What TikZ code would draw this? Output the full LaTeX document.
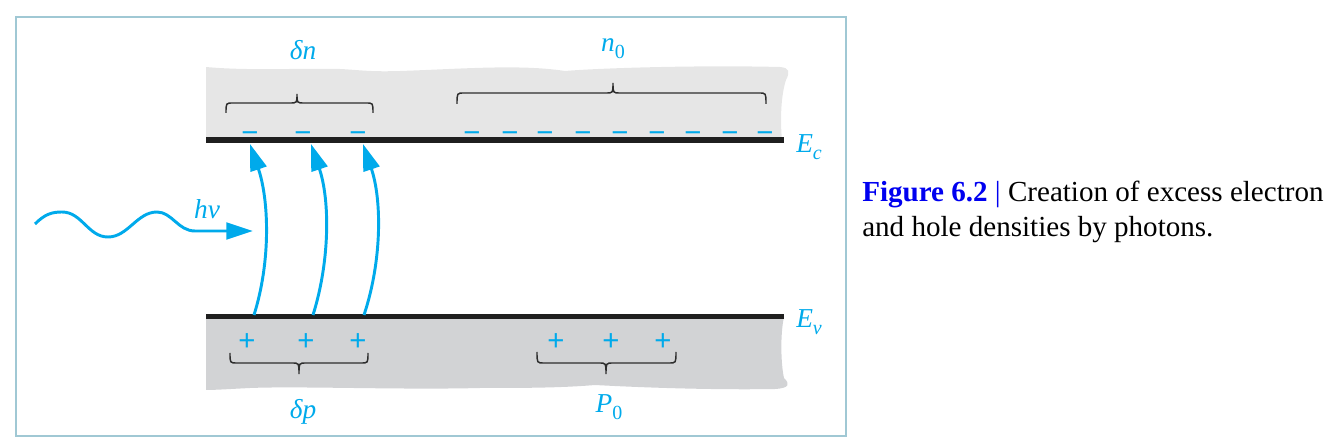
\documentclass[tikz,border=0pt]{standalone}
\usepackage{fontspec}
\setmainfont{Liberation Serif}
\newfontfamily\sansf{Liberation Sans}
\usetikzlibrary{arrows.meta}
\definecolor{cyanb}{RGB}{0,170,235}
\definecolor{figblue}{RGB}{0,0,240}
\definecolor{framec}{RGB}{160,200,212}
\definecolor{cbgray}{RGB}{230,230,230}
\definecolor{vbgray}{RGB}{210,211,213}
\definecolor{bracec}{RGB}{45,45,45}
\newcommand{\subsc}[1]{\raisebox{-0.22em}{\fontsize{15}{15}\selectfont #1}}
\begin{document}
\begin{tikzpicture}[x=0.75pt,y=-0.75pt,
 lbl/.style={text=cyanb, font=\fontsize{20.5}{24}\selectfont\itshape, inner sep=0, anchor=base},
 chg/.style={text=cyanb, font=\sansf\fontsize{22}{22}\selectfont, inner sep=0, anchor=base},
 band/.style={line width=4pt, draw=black!88},
 bracel/.style={draw=bracec, line width=1.1pt},
 excite/.style={draw=cyanb, line width=2.2pt, -{Triangle[length=20pt,width=12.5pt]}},
 captext/.style={font=\fontsize{21.8}{26}\selectfont, anchor=base west, inner sep=0}]
\useasboundingbox (0,0) rectangle (1340,438);
\draw[framec, line width=1.5pt] (16,17) rectangle (846,436);
% conduction band region
\fill[cbgray] (206,140) -- (206,67) .. controls (250,71) and (300,68) .. (340,69)
  .. controls (360,70) and (370,72) .. (400,71) .. controls (460,69) and (520,64) .. (565,71)
  .. controls (600,68) and (700,65) .. (780,67) .. controls (790,68) and (790,72) .. (786,80)
  .. controls (781,95) and (780,120) .. (782,140) -- cycle;
% valence band region
\fill[vbgray] (206,317) -- (784,317) .. controls (780,335) and (781,365) .. (784,378)
  .. controls (790,384) and (790,388) .. (775,389) .. controls (720,390) and (650,388) .. (595,385)
  .. controls (560,388) and (520,388) .. (480,388) .. controls (400,390) and (300,386) .. (250,388)
  .. controls (230,389) and (215,390) .. (206,390) -- cycle;
% band edges
\coordinate (ecl) at (206,140); \coordinate (ecr) at (784,140);
\coordinate (evl) at (206,316.7); \coordinate (evr) at (784,316.7);
\draw[band] (ecl) -- (ecr);
\draw[band] (evl) -- (evr);
% electrons
\foreach \x [count=\i] in {250,303,358,472,510,545,583,620,657,693,730,765}
  \node[chg] (m\i) at (\x,143) {−};
% holes
\foreach \x [count=\i] in {247,306,358,556,611,663}
  \node[chg] (p\i) at (\x,351) {+};
% braces
\draw[bracel] (226,113) .. controls (226,103) .. (233,103) -- (290,103) .. controls (297,103) .. (297,94)
  .. controls (297,103) .. (304,103) -- (366,103) .. controls (373,103) .. (373,113);
\draw[bracel] (457,104) .. controls (457,93) .. (464,93) -- (606,93) .. controls (613,93) .. (613,83)
  .. controls (613,93) .. (620,93) -- (759,93) .. controls (766,93) .. (766,104);
\draw[bracel] (230,353) .. controls (230,363) .. (237,363) -- (292,363) .. controls (299,363) .. (299,374)
  .. controls (299,363) .. (306,363) -- (361,363) .. controls (368,363) .. (368,353);
\draw[bracel] (537,352) .. controls (537,363) .. (544,363) -- (599,363) .. controls (606,363) .. (606,374)
  .. controls (606,363) .. (613,363) -- (669,363) .. controls (676,363) .. (676,352);
% labels
\node[lbl] (dn) at (303,60) {δn};
\node[lbl] (n0) at (613,52) {n\subsc{\upshape 0}};
\node[lbl] (dp) at (303,419) {δp};
\node[lbl] (P0) at (609,413) {P\subsc{\upshape 0}};
\node[lbl, anchor=base west] (Ec) at (796,153) {E\subsc{c}};
\node[lbl, anchor=base west] (Ev) at (796,328) {E\subsc{v}};
\node[lbl] (hnu) at (207,219) {hν};
% excitation arrows
\coordinate (a1s) at (254,315); \coordinate (a1e) at (250,144);
\coordinate (a2s) at (313,315); \coordinate (a2e) at (311,144);
\coordinate (a3s) at (364,315); \coordinate (a3e) at (363,144);
\draw[excite] (a1s) .. controls +(17,-54) and +(19,56) .. (a1e);
\draw[excite] (a2s) .. controls +(17,-54) and +(19,56) .. (a2e);
\draw[excite] (a3s) .. controls +(18,-54) and +(19,56) .. (a3e);
% photon
\coordinate (w0) at (35,224); \coordinate (wt) at (253,231);
\draw[excite] (w0) .. controls (45,214) and (52,212) .. (62,212) .. controls (82,212) and (88,237) .. (108,237)
  .. controls (128,237) and (137,212) .. (157,212) .. controls (172,212) and (178,231) .. (195,231) -- (wt);
% caption
\node[captext] (cap1) at (862,202) {\textcolor{figblue}{\textbf{Figure 6.2} |} Creation of excess electron};
\node[captext] (cap2) at (862,237) {and hole densities by photons.};
\end{tikzpicture}
\end{document}
